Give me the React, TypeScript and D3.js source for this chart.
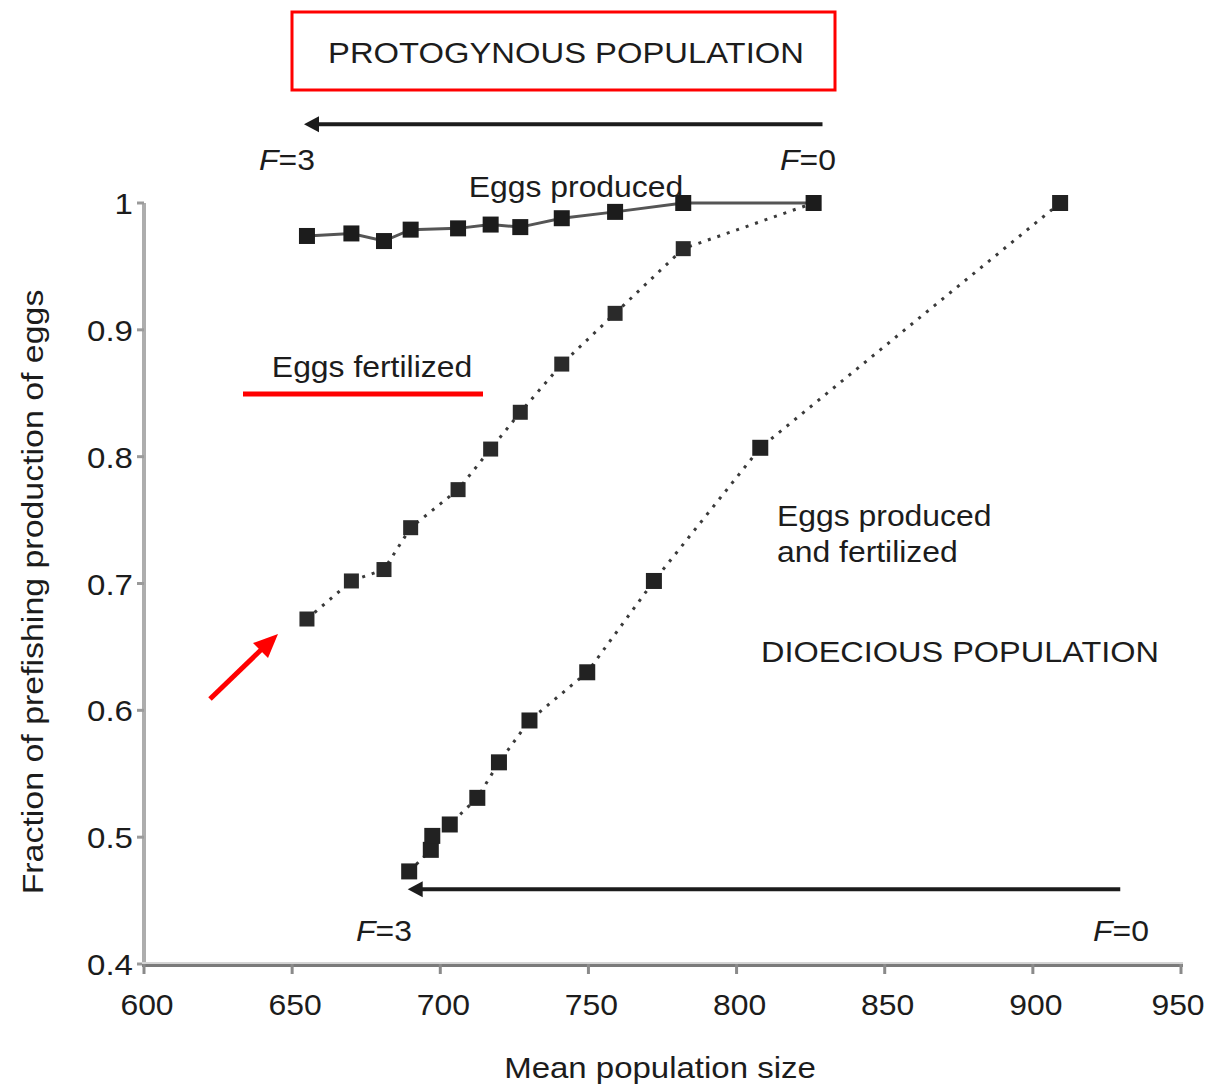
import React from "react";
import * as d3 from "d3";

// Mean population size under increasing fishing mortality (F = 0 → F = 3)
const protoSize = [655, 670, 681, 690, 706, 717, 727, 741, 759, 782, 826];
const protoProduced = [0.974, 0.976, 0.97, 0.979, 0.98, 0.983, 0.981, 0.988, 0.993, 1.0, 1.0];
const protoFertilized = [0.672, 0.702, 0.711, 0.744, 0.774, 0.806, 0.835, 0.873, 0.913, 0.964, 1.0];

const dioSize = [689.5, 696.8, 697.3, 703.2, 712.5, 719.8, 730.1, 749.6, 772.1, 808, 909.2];
const dioProducedFertilized = [0.473, 0.49, 0.501, 0.51, 0.531, 0.559, 0.592, 0.63, 0.702, 0.807, 1.0];

const xTicks = [600, 650, 700, 750, 800, 850, 900, 950];
const yTicks = [0.4, 0.5, 0.6, 0.7, 0.8, 0.9, 1];

const W = 1209;
const H = 1087;
const FONT = "'Liberation Sans', Arial, sans-serif";
const INK = "#1c1c1c";

const x = d3.scaleLinear().domain([600, 950]).range([144, 1181]);
const y = d3.scaleLinear().domain([0.4, 1]).range([964, 203]);

type Pt = [number, number];
const zip = (a: number[], b: number[]): Pt[] => a.map((v, i) => [v, b[i]]);

const line = d3
  .line<Pt>()
  .x((d) => x(d[0]))
  .y((d) => y(d[1]));

function Label({
  px,
  py,
  anchor = "start",
  size = 30,
  rotate = 0,
  sx = 1.1,
  children,
}: {
  px: number;
  py: number;
  anchor?: string;
  size?: number;
  rotate?: number;
  sx?: number;
  children: React.ReactNode;
}) {
  return (
    <text
      transform={`translate(${px},${py}) rotate(${rotate}) scale(${sx},1)`}
      textAnchor={anchor}
      fontSize={size}
      fontFamily={FONT}
      fill={INK}
    >
      {children}
    </text>
  );
}

function FLabel({ px, py, val }: { px: number; py: number; val: string }) {
  return (
    <Label px={px} py={py} anchor="middle" size={29}>
      <tspan fontStyle="italic">F</tspan>
      {"="}
      {val}
    </Label>
  );
}

function Squares({ pts, size, fill }: { pts: Pt[]; size: number; fill: string }) {
  return (
    <g>
      {pts.map((d, i) => (
        <rect
          key={i}
          x={x(d[0]) - size / 2}
          y={y(d[1]) - size / 2}
          width={size}
          height={size}
          fill={fill}
        />
      ))}
    </g>
  );
}

function LeftArrow({ from, to, at }: { from: number; to: number; at: number }) {
  const x0 = x(from);
  const x1 = x(to);
  const yy = y(at);
  return (
    <g>
      <line x1={x0} y1={yy} x2={x1 + 10} y2={yy} stroke={INK} strokeWidth={4} />
      <path d={`M${x1},${yy} L${x1 + 15},${yy - 8} L${x1 + 15},${yy + 8} Z`} fill={INK} />
    </g>
  );
}

export default function App() {
  const produced = zip(protoSize, protoProduced);
  const fertilized = zip(protoSize, protoFertilized);
  const dioecious = zip(dioSize, dioProducedFertilized);

  return (
    <svg
      width={W}
      height={H}
      style={{ position: "absolute", left: 0, top: 0, background: "#fff" }}
    >
      <rect width={W} height={H} fill="#fff" />

      {/* Title box */}
      <rect x={292} y={12} width={543} height={78} fill="none" stroke="#ff0000" strokeWidth={3} />
      <Label px={566} py={63} anchor="middle" size={29} sx={1.13}>
        PROTOGYNOUS POPULATION
      </Label>

      {/* Fishing mortality arrows */}
      <LeftArrow from={829} to={654} at={1.062} />
      <FLabel px={287} py={170} val="3" />
      <FLabel px={808} py={170} val="0" />

      <LeftArrow from={929.5} to={689} at={0.459} />
      <FLabel px={384} py={941} val="3" />
      <FLabel px={1121} py={941} val="0" />

      {/* Axes */}
      <line x1={x(600)} y1={y(1)} x2={x(600)} y2={y(0.4) + 2} stroke="#adadad" strokeWidth={4} />
      {yTicks.map((t) => (
        <g key={t}>
          <line x1={x(600) - 7} x2={x(600)} y1={y(t)} y2={y(t)} stroke="#9a9a9a" strokeWidth={3} />
          <Label px={x(600) - 11} py={y(t) + 11} anchor="end" size={29} sx={1.14}>
            {String(t)}
          </Label>
        </g>
      ))}
      <line x1={x(600) - 2} x2={x(950) + 2} y1={y(0.4) - 1} y2={y(0.4) - 1} stroke="#d4d4d4" strokeWidth={2} />
      <line x1={x(600) - 2} x2={x(950) + 2} y1={y(0.4) + 1.5} y2={y(0.4) + 1.5} stroke="#7a7a7a" strokeWidth={3} />
      {xTicks.map((t) => (
        <g key={t}>
          <line x1={x(t)} x2={x(t)} y1={y(0.4)} y2={y(0.4) + 10} stroke="#8a8a8a" strokeWidth={3} />
          <Label px={Math.min(x(t) + 3, W - 31)} py={y(0.4) + 51} anchor="middle" size={29}>
            {String(t)}
          </Label>
        </g>
      ))}

      <Label px={660} py={1078} anchor="middle" size={30}>
        Mean population size
      </Label>
      <Label px={43} py={592} anchor="middle" size={30} rotate={-90} sx={1.13}>
        Fraction of prefishing production of eggs
      </Label>

      {/* Dioecious: eggs produced and fertilized */}
      <path
        d={line(dioecious) ?? ""}
        fill="none"
        stroke="#3a3a3a"
        strokeWidth={3}
        strokeDasharray="3 7"
      />
      <Squares pts={dioecious} size={16} fill="#222" />

      {/* Protogynous: eggs fertilized */}
      <path
        d={line(fertilized) ?? ""}
        fill="none"
        stroke="#3a3a3a"
        strokeWidth={3}
        strokeDasharray="3 7"
      />
      <Squares pts={fertilized} size={15} fill="#2a2a2a" />

      {/* Protogynous: eggs produced */}
      <path d={line(produced) ?? ""} fill="none" stroke="#555" strokeWidth={3} />
      <Squares pts={produced} size={16} fill="#1c1c1c" />

      {/* Series labels */}
      <Label px={576} py={197} anchor="middle" size={29}>
        Eggs produced
      </Label>
      <Label px={372} py={377} anchor="middle" size={29}>
        Eggs fertilized
      </Label>
      <line x1={243} x2={483} y1={394} y2={394} stroke="#ff0000" strokeWidth={5} />

      <Label px={777} py={526} size={29}>
        Eggs produced
      </Label>
      <Label px={777} py={562} size={29}>
        and fertilized
      </Label>
      <Label px={761} py={662} size={29} sx={1.12}>
        DIOECIOUS POPULATION
      </Label>

      {/* Red pointer */}
      <line x1={210} y1={699} x2={265} y2={646} stroke="#ff0000" strokeWidth={5} />
      <path d="M278,634 L253,643 L268,658 Z" fill="#ff0000" />
    </svg>
  );
}
